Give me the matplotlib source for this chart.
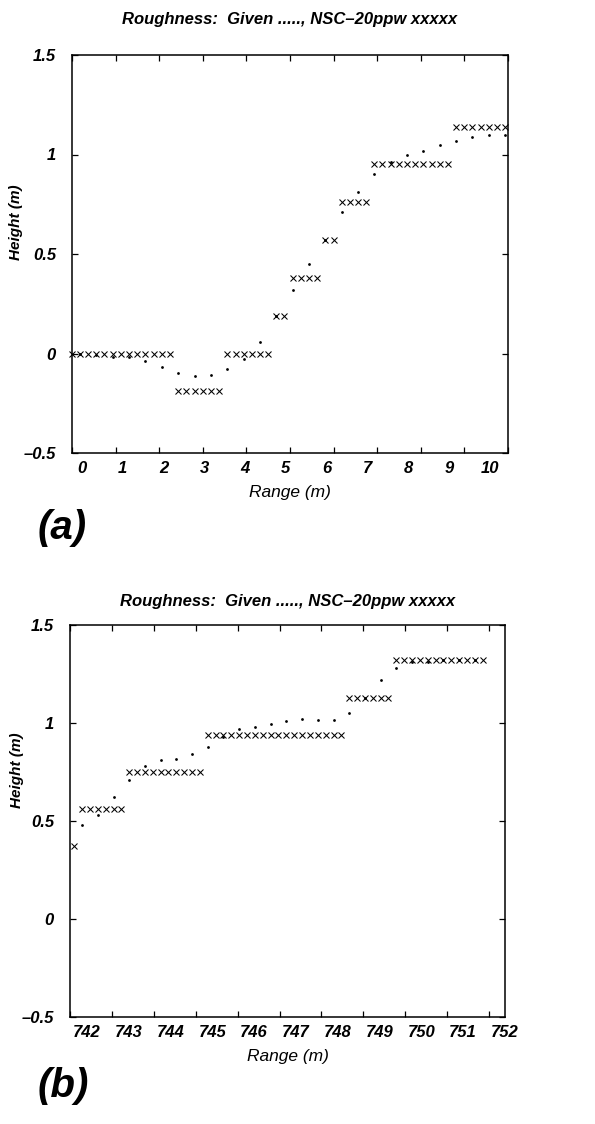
import matplotlib
matplotlib.use('Agg')
from matplotlib import pyplot as plt

# Helvetica 风格字体
plt.rcParams['font.family'] = ['Liberation Sans', 'DejaVu Sans']

"""==========================================1. 数据========================================"""
title_text = 'Roughness:  Given ....., NSC\u201320ppw xxxxx'

# (a) NSC-20ppw 估计剖面 (×)
a_nsc_x = [0.0, 0.185, 0.37, 0.56, 0.745, 0.935, 1.12, 1.31, 1.5, 1.685, 1.87, 2.06, 2.25,
           2.435, 2.62, 2.81, 3.0, 3.185, 3.37,
           3.56, 3.75, 3.935, 4.12, 4.31, 4.5,
           4.685, 4.87,
           5.06, 5.25, 5.435, 5.62,
           5.81, 6.0,
           6.185, 6.37, 6.56, 6.75,
           6.935, 7.12, 7.31, 7.5, 7.685, 7.87, 8.06, 8.25, 8.435, 8.62,
           8.81, 9.0, 9.185, 9.37, 9.56, 9.75, 9.935]
a_nsc_y = [0.0] * 13 + [-0.19] * 6 + [0.0] * 6 + [0.19] * 2 + [0.38] * 4 + [0.57] * 2 \
          + [0.76] * 4 + [0.95] * 10 + [1.14] * 7

# (a) 给定剖面 (·)
a_given_x = [0.185, 0.56, 0.935, 1.31, 1.685, 2.06, 2.435, 2.81, 3.185, 3.56, 3.935, 4.31,
             4.685, 5.06, 5.435, 5.81, 6.185, 6.56, 6.935, 7.31, 7.685, 8.06, 8.435, 8.81,
             9.185, 9.56, 9.935]
a_given_y = [0.0, -0.01, -0.02, -0.02, -0.04, -0.07, -0.10, -0.115, -0.11, -0.08, -0.03, 0.06,
             0.19, 0.32, 0.45, 0.57, 0.71, 0.81, 0.90, 0.96, 1.00, 1.02, 1.05, 1.07,
             1.09, 1.10, 1.10]

# (b) NSC-20ppw 估计剖面 (×)
b_nsc_x = [742.1,
           742.29, 742.475, 742.66, 742.85, 743.04, 743.225,
           743.41, 743.6, 743.79, 743.975, 744.16, 744.35, 744.54, 744.725, 744.91, 745.1,
           745.29, 745.475, 745.66, 745.85, 746.04, 746.225, 746.41, 746.6, 746.79, 746.975,
           747.16, 747.35, 747.54, 747.725, 747.91, 748.1, 748.29, 748.475,
           748.66, 748.85, 749.04, 749.225, 749.41, 749.6,
           749.79, 749.975, 750.16, 750.35, 750.54, 750.725, 750.91, 751.1, 751.29, 751.475,
           751.66, 751.85]
b_nsc_y = [0.37] + [0.56] * 6 + [0.75] * 10 + [0.94] * 18 + [1.13] * 6 + [1.32] * 12

# (b) 给定剖面 (·)
b_given_x = [742.29, 742.66, 743.04, 743.41, 743.79, 744.16, 744.54, 744.91, 745.29, 745.66,
             746.04, 746.41, 746.79, 747.16, 747.54, 747.91, 748.29, 748.66, 749.04, 749.41,
             749.79, 750.16, 750.54, 750.91, 751.29, 751.66]
b_given_y = [0.48, 0.53, 0.62, 0.71, 0.78, 0.81, 0.815, 0.84, 0.88, 0.93,
             0.97, 0.98, 0.995, 1.01, 1.02, 1.015, 1.015, 1.05, 1.13, 1.22,
             1.28, 1.31, 1.31, 1.32, 1.32, 1.32]

a_xticks = [0, 1, 2, 3, 4, 5, 6, 7, 8, 9, 10]
b_xticks = [742, 743, 744, 745, 746, 747, 748, 749, 750, 751, 752]
yticks = [-0.5, 0, 0.5, 1, 1.5]
ytick_labels = ['\u20130.5', '0', '0.5', '1', '1.5']

"""==========================================2. 绘图========================================"""
fig = plt.figure(figsize=(5.95, 11.24), dpi=100)
ax1 = fig.add_axes([72 / 595, 1 - 453 / 1124, 436 / 595, 398 / 1124])
ax2 = fig.add_axes([70 / 595, 1 - 1017 / 1124, 435 / 595, 392 / 1124])

# 原图刻度数字与刻度线并不完全对齐: 数字位置 = 起点偏移 + 间距 * 序号
# (坐标轴, ×数据, ·数据, 刻度, 数字偏移, 数字间距, 标题间距, y轴名位置)
panels = [(ax1, a_nsc_x, a_nsc_y, a_given_x, a_given_y, a_xticks, 0.23, 0.935, 22, -0.113, 0.58),
          (ax2, b_nsc_x, b_nsc_y, b_given_x, b_given_y, b_xticks, 0.4, 0.998, 14, -0.106, 0.63)]

for ax, nx, ny, gx, gy, xt, lab_off, lab_step, tpad, ylab_x, ylab_y in panels:
    ax.plot(nx, ny, linestyle='none', marker='x', ms=4.7, mew=0.75, color='black', clip_on=False)
    ax.plot(gx, gy, linestyle='none', marker='o', ms=2.0, mew=0, color='black', clip_on=False)
    ax.set_xlim(xt[0], xt[-1])
    ax.set_ylim(-0.5, 1.5)
    # 刻度线
    ax.set_xticks(xt)
    ax.set_xticklabels([])
    # 刻度数字 (放在长度为0的次刻度上)
    ax.set_xticks([xt[0] + lab_off + lab_step * (t - xt[0]) for t in xt], minor=True)
    ax.set_xticklabels([str(t) for t in xt], minor=True, fontsize=12, fontweight='bold', style='italic')
    ax.set_yticks(yticks)
    ax.set_yticklabels(ytick_labels, fontsize=12, fontweight='bold', style='italic')
    ax.tick_params(direction='in', length=4, width=0.9, top=True, right=True, colors='black')
    ax.tick_params(axis='x', which='minor', length=0, pad=6)
    ax.tick_params(axis='y', pad=11.5)
    for s in ax.spines.values():
        s.set_linewidth(1.1)
    ax.set_title(title_text, fontsize=12, fontweight='bold', style='italic', pad=tpad)
    ax.set_xlabel('Range (m)', fontsize=12.5, style='italic', labelpad=6)
    ax.set_ylabel('Height (m)', fontsize=11, fontweight='bold', style='italic')
    ax.yaxis.set_label_coords(ylab_x, ylab_y)

fig.text(38 / 595, 1 - 528 / 1124, '(a)', fontsize=29, fontweight='bold', style='italic', va='center')
fig.text(38 / 595, 1 - 1086 / 1124, '(b)', fontsize=29, fontweight='bold', style='italic', va='center')

fig.savefig('out.png', dpi=100)
